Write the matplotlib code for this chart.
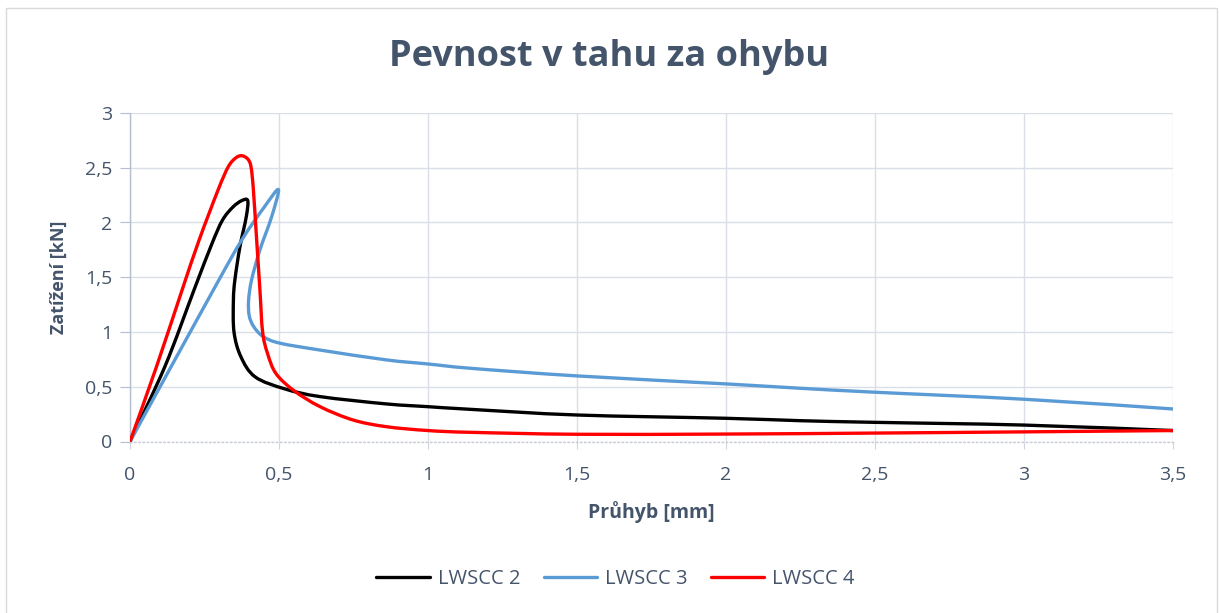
import matplotlib.pyplot as plt
from matplotlib.patches import Rectangle, PathPatch
from matplotlib.path import Path
from matplotlib.lines import Line2D
from matplotlib.ticker import FuncFormatter
import numpy as np

plt.rcParams['font.family'] = ['Open Sans', 'DejaVu Sans']

# LWSCC 2 (black)
x_2 = [0, 0.117, 0.215, 0.274, 0.31, 0.345, 0.375, 0.395, 0.39, 0.369, 0.352, 0.347, 0.349,
       0.372, 0.42, 0.52, 0.638, 0.861, 1.0, 1.141, 1.5, 2.0, 2.25, 2.5, 3.0, 3.5]
y_2 = [0, 0.684, 1.385, 1.8, 2.02, 2.14, 2.2, 2.2, 2.05, 1.78, 1.476, 1.29, 1.0,
       0.775, 0.59, 0.48, 0.41, 0.343, 0.318, 0.294, 0.242, 0.212, 0.19, 0.175, 0.15, 0.1]

# LWSCC 3 (blue)
x_3 = [0, 0.28, 0.375, 0.453, 0.498, 0.475, 0.436, 0.408, 0.398, 0.4, 0.415, 0.447, 0.503,
       0.638, 0.861, 1.0, 1.141, 1.5, 2.0, 2.25, 2.5, 3.0, 3.5]
y_3 = [0, 1.385, 1.84, 2.15, 2.30, 2.05, 1.75, 1.476, 1.29, 1.15, 1.05, 0.958, 0.898,
       0.835, 0.745, 0.708, 0.669, 0.599, 0.526, 0.486, 0.45, 0.386, 0.297]

# LWSCC 4 (red)
x_4 = [0, 0.089, 0.175, 0.232, 0.296, 0.33, 0.355, 0.375, 0.395, 0.406, 0.414, 0.425, 0.436,
       0.445, 0.462, 0.49, 0.55, 0.638, 0.749, 0.861, 1.0, 1.141, 1.5, 2.0, 2.5, 3.0, 3.5]
y_4 = [0, 0.684, 1.385, 1.84, 2.30, 2.51, 2.59, 2.61, 2.58, 2.51, 2.30, 1.84, 1.385,
       1.0, 0.8, 0.62, 0.465, 0.318, 0.196, 0.135, 0.1, 0.084, 0.066, 0.068, 0.077, 0.088, 0.1]

series = [("LWSCC 2", x_2, y_2, "#000000"),
          ("LWSCC 3", x_3, y_3, "#5B9BD5"),
          ("LWSCC 4", x_4, y_4, "#FF0000")]

text_col = "#44546A"
grid_col = "#D9DEE7"


def smooth_path(xs, ys):
    # Excel-like "smoothed line": cubic bezier through the points (Catmull-Rom tangents)
    p = np.column_stack([xs, ys]).astype(float)
    n = len(p)
    verts = [p[0]]
    codes = [Path.MOVETO]
    for i in range(n - 1):
        p0 = p[i - 1] if i > 0 else p[i]
        p3 = p[i + 2] if i + 2 < n else p[i + 1]
        c1 = p[i] + (p[i + 1] - p0) / 6
        c2 = p[i + 1] - (p3 - p[i]) / 6
        verts += [c1, c2, p[i + 1]]
        codes += [Path.CURVE4] * 3
    return Path(verts, codes)


fig = plt.figure(figsize=(12.19, 6.13), dpi=100)
fig.patches.append(Rectangle((6 / 1219, -0.01), 1211 / 1219, 1 - 8 / 613 + 0.01,
                             transform=fig.transFigure, fill=False,
                             edgecolor="#D9D9D9", linewidth=1.0))
ax = fig.add_axes([130 / 1219, 1 - 441.5 / 613, 1043 / 1219, 328.5 / 613])

handles = []
for name, xs, ys, col in series:
    ax.add_patch(PathPatch(smooth_path(xs, ys), fill=False, edgecolor=col, linewidth=2.4,
                           joinstyle="round", capstyle="round", zorder=3))
    handles.append(Line2D([], [], color=col, linewidth=2.4, solid_capstyle="round", label=name))

ax.set_xlim(0, 3.5)
ax.set_ylim(0, 3)
ax.set_xticks(np.arange(0, 3.51, 0.5))
ax.set_yticks(np.arange(0, 3.01, 0.5))
fmt = FuncFormatter(lambda v, p: ("%g" % v).replace(".", ","))
ax.xaxis.set_major_formatter(fmt)
ax.yaxis.set_major_formatter(fmt)
ax.grid(True, color=grid_col, linewidth=1.0, zorder=0)

for s in ["top", "right"]:
    ax.spines[s].set_visible(False)
ax.spines["left"].set_color("#B4BECF")
ax.spines["left"].set_linewidth(1.0)
ax.spines["bottom"].set_color("#C8CCD4")
ax.spines["bottom"].set_linestyle((0, (1, 2)))
ax.spines["bottom"].set_linewidth(1.0)

ax.tick_params(axis="y", length=7, color="#B4BECF", labelsize=14, labelcolor=text_col, pad=6)
ax.tick_params(axis="x", length=5, color="#D0D4DC", labelsize=14, labelcolor=text_col, pad=13)

ax.set_xlabel("Průhyb [mm]", fontsize=14, fontweight="bold", color=text_col, labelpad=12)
ax.set_ylabel("Zatížení [kN]", fontsize=13, fontweight="bold", color=text_col, labelpad=12)

fig.text(0.5, 1 - 57 / 613, "Pevnost v tahu za ohybu", ha="center", va="center",
         fontsize=26, fontweight="bold", color=text_col)

fig.legend(handles=handles, loc="center", bbox_to_anchor=(0.505, 1 - 579 / 613), ncol=3,
           frameon=False, fontsize=14.5, handlelength=2.65, columnspacing=1.15,
           handletextpad=0.4, labelcolor=text_col)

fig.savefig("out.png", dpi=100)
